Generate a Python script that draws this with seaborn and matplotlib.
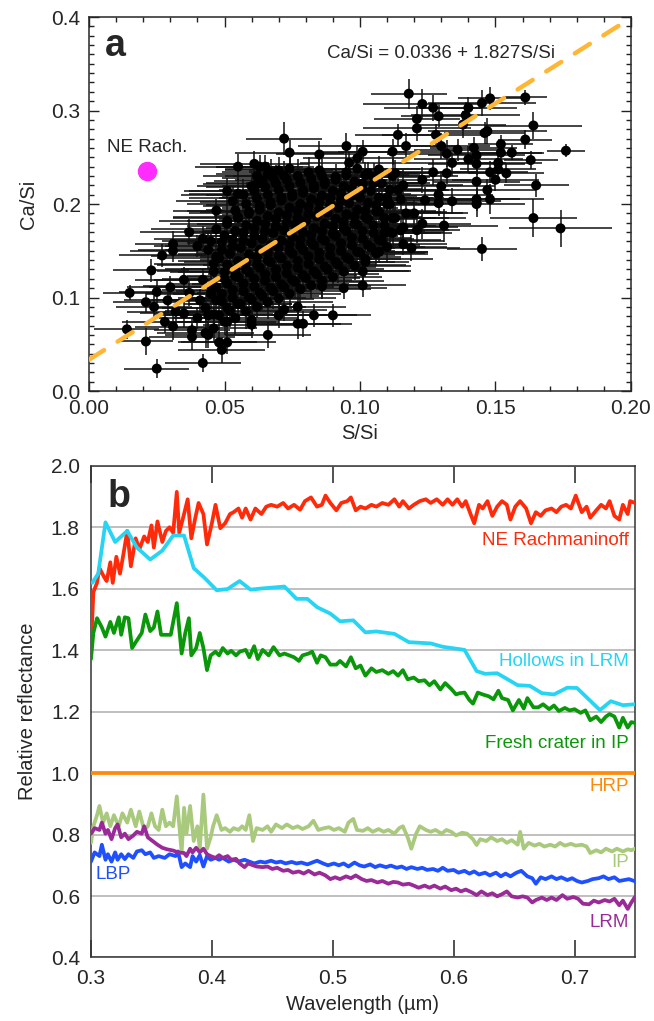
import numpy as np
import pandas as pd
import matplotlib
matplotlib.use("Agg")
import matplotlib.pyplot as plt
import seaborn as sns

# ---------------------------------------------------------------
# panel a : Ca/Si vs S/Si
# ---------------------------------------------------------------
# dense central cloud
s_core = [0.043, 0.045, 0.042, 0.046, 0.044,
          0.048, 0.049, 0.047, 0.050, 0.048, 0.049, 0.047,
          0.052, 0.053, 0.051, 0.054, 0.052, 0.053, 0.051, 0.054,
          0.056, 0.057, 0.055, 0.058, 0.056, 0.057, 0.055, 0.058,
          0.060, 0.061, 0.059, 0.062, 0.060, 0.061, 0.059, 0.062, 0.060,
          0.064, 0.065, 0.063, 0.066, 0.064, 0.065, 0.063, 0.066, 0.064,
          0.068, 0.069, 0.067, 0.070, 0.068, 0.069, 0.067, 0.070, 0.068,
          0.072, 0.073, 0.071, 0.074, 0.072, 0.073, 0.071, 0.074, 0.072,
          0.076, 0.077, 0.075, 0.078, 0.076, 0.077, 0.075, 0.078,
          0.080, 0.081, 0.079, 0.082, 0.080, 0.081, 0.079, 0.082,
          0.084, 0.085, 0.083, 0.086, 0.084, 0.085, 0.083, 0.086,
          0.088, 0.089, 0.087, 0.090, 0.088, 0.089, 0.087,
          0.092, 0.093, 0.091, 0.094, 0.092, 0.093, 0.091,
          0.096, 0.097, 0.095, 0.098, 0.096, 0.097, 0.095,
          0.100, 0.101, 0.099, 0.102, 0.100, 0.101,
          0.104, 0.105, 0.103, 0.106, 0.104, 0.105,
          0.108, 0.109, 0.107, 0.110, 0.108,
          0.112, 0.113, 0.111, 0.114, 0.112]
ca_core = [0.089, 0.104, 0.119, 0.136, 0.151,
           0.081, 0.096, 0.111, 0.127, 0.142, 0.159, 0.173,
           0.086, 0.100, 0.115, 0.130, 0.147, 0.162, 0.179, 0.193,
           0.093, 0.107, 0.122, 0.138, 0.153, 0.169, 0.185, 0.200,
           0.098, 0.112, 0.127, 0.143, 0.158, 0.174, 0.190, 0.206, 0.219,
           0.102, 0.118, 0.132, 0.148, 0.163, 0.179, 0.194, 0.210, 0.225,
           0.107, 0.122, 0.138, 0.153, 0.169, 0.184, 0.199, 0.215, 0.228,
           0.111, 0.126, 0.142, 0.157, 0.172, 0.188, 0.204, 0.219, 0.230,
           0.117, 0.132, 0.147, 0.162, 0.178, 0.193, 0.208, 0.223,
           0.121, 0.136, 0.151, 0.167, 0.182, 0.197, 0.212, 0.227,
           0.125, 0.141, 0.156, 0.171, 0.187, 0.202, 0.217, 0.230,
           0.130, 0.145, 0.161, 0.176, 0.191, 0.206, 0.221,
           0.135, 0.150, 0.166, 0.181, 0.196, 0.211, 0.226,
           0.141, 0.156, 0.171, 0.187, 0.201, 0.216, 0.231,
           0.148, 0.163, 0.178, 0.193, 0.207, 0.222,
           0.154, 0.169, 0.184, 0.199, 0.214, 0.229,
           0.161, 0.177, 0.192, 0.207, 0.222,
           0.169, 0.185, 0.200, 0.215, 0.230]
s_err_core = [0.020, 0.024, 0.018, 0.022, 0.026,
              0.022, 0.018, 0.025, 0.020, 0.023, 0.019, 0.024,
              0.024, 0.020, 0.022, 0.026, 0.019, 0.023, 0.021, 0.018,
              0.019, 0.025, 0.021, 0.023, 0.026, 0.020, 0.024, 0.022,
              0.023, 0.019, 0.026, 0.021, 0.024, 0.018, 0.022, 0.025, 0.020,
              0.021, 0.024, 0.019, 0.026, 0.022, 0.025, 0.020, 0.023, 0.018,
              0.025, 0.020, 0.023, 0.019, 0.026, 0.021, 0.024, 0.022, 0.019,
              0.018, 0.023, 0.026, 0.021, 0.020, 0.024, 0.019, 0.025, 0.022,
              0.024, 0.021, 0.019, 0.025, 0.022, 0.018, 0.026, 0.020,
              0.020, 0.025, 0.022, 0.019, 0.024, 0.021, 0.023, 0.018,
              0.023, 0.019, 0.026, 0.022, 0.020, 0.025, 0.018, 0.024,
              0.021, 0.024, 0.019, 0.023, 0.026, 0.020, 0.022,
              0.025, 0.020, 0.023, 0.018, 0.022, 0.026, 0.019,
              0.019, 0.022, 0.025, 0.021, 0.024, 0.018, 0.023,
              0.024, 0.019, 0.022, 0.026, 0.020, 0.023,
              0.020, 0.025, 0.018, 0.022, 0.024, 0.021,
              0.023, 0.019, 0.025, 0.021, 0.018,
              0.022, 0.026, 0.020, 0.019, 0.024]
ca_err_core = [0.014, 0.018, 0.012, 0.016, 0.020,
               0.016, 0.013, 0.019, 0.015, 0.017, 0.012, 0.018,
               0.018, 0.014, 0.016, 0.020, 0.013, 0.017, 0.015, 0.012,
               0.013, 0.019, 0.015, 0.017, 0.020, 0.014, 0.018, 0.016,
               0.017, 0.013, 0.020, 0.015, 0.018, 0.012, 0.016, 0.019, 0.014,
               0.015, 0.018, 0.013, 0.020, 0.016, 0.019, 0.014, 0.017, 0.012,
               0.019, 0.014, 0.017, 0.013, 0.020, 0.015, 0.018, 0.016, 0.013,
               0.012, 0.017, 0.020, 0.015, 0.014, 0.018, 0.013, 0.019, 0.016,
               0.018, 0.015, 0.013, 0.019, 0.016, 0.012, 0.020, 0.014,
               0.014, 0.019, 0.016, 0.013, 0.018, 0.015, 0.017, 0.012,
               0.017, 0.013, 0.020, 0.016, 0.014, 0.019, 0.012, 0.018,
               0.015, 0.018, 0.013, 0.017, 0.020, 0.014, 0.016,
               0.019, 0.014, 0.017, 0.012, 0.016, 0.020, 0.013,
               0.013, 0.016, 0.019, 0.015, 0.018, 0.012, 0.017,
               0.018, 0.013, 0.016, 0.020, 0.014, 0.017,
               0.014, 0.019, 0.012, 0.016, 0.018, 0.015,
               0.017, 0.013, 0.019, 0.015, 0.012,
               0.016, 0.020, 0.014, 0.013, 0.018]

# second layer of the cloud, sitting between the first
s_core2 = [0.046, 0.047, 0.045, 0.046, 0.047, 0.045,
           0.050, 0.051, 0.049, 0.050, 0.051, 0.049, 0.050, 0.051,
           0.054, 0.055, 0.053, 0.054, 0.055, 0.053, 0.054, 0.055, 0.053,
           0.058, 0.059, 0.057, 0.058, 0.059, 0.057, 0.058, 0.059, 0.057,
           0.062, 0.063, 0.061, 0.062, 0.063, 0.061, 0.062, 0.063, 0.061, 0.062,
           0.066, 0.067, 0.065, 0.066, 0.067, 0.065, 0.066, 0.067, 0.065, 0.066,
           0.070, 0.071, 0.069, 0.070, 0.071, 0.069, 0.070, 0.071, 0.069, 0.070,
           0.074, 0.075, 0.073, 0.074, 0.075, 0.073, 0.074, 0.075, 0.073, 0.074,
           0.078, 0.079, 0.077, 0.078, 0.079, 0.077, 0.078, 0.079, 0.077,
           0.082, 0.083, 0.081, 0.082, 0.083, 0.081, 0.082, 0.083, 0.081,
           0.086, 0.087, 0.085, 0.086, 0.087, 0.085, 0.086, 0.087, 0.085,
           0.090, 0.091, 0.089, 0.090, 0.091, 0.089, 0.090, 0.091,
           0.094, 0.095, 0.093, 0.094, 0.095, 0.093, 0.094, 0.095,
           0.098, 0.099, 0.097, 0.098, 0.099, 0.097, 0.098, 0.099,
           0.102, 0.103, 0.101, 0.102, 0.103, 0.101, 0.102,
           0.106, 0.107, 0.105, 0.106, 0.107, 0.105,
           0.110, 0.111, 0.109, 0.110, 0.111,
           0.116, 0.117, 0.115, 0.116]
ca_core2 = [0.082, 0.097, 0.112, 0.128, 0.144, 0.160,
            0.074, 0.089, 0.104, 0.120, 0.135, 0.151, 0.166, 0.182,
            0.078, 0.093, 0.108, 0.123, 0.139, 0.155, 0.171, 0.186, 0.203,
            0.085, 0.100, 0.115, 0.130, 0.146, 0.161, 0.177, 0.192, 0.210,
            0.090, 0.105, 0.120, 0.135, 0.151, 0.166, 0.182, 0.198, 0.214, 0.230,
            0.095, 0.110, 0.125, 0.140, 0.156, 0.171, 0.187, 0.202, 0.218, 0.232,
            0.099, 0.114, 0.130, 0.145, 0.161, 0.176, 0.191, 0.207, 0.222, 0.236,
            0.104, 0.119, 0.134, 0.150, 0.165, 0.180, 0.196, 0.211, 0.226, 0.238,
            0.109, 0.124, 0.139, 0.155, 0.170, 0.185, 0.200, 0.215, 0.230,
            0.113, 0.128, 0.144, 0.159, 0.174, 0.189, 0.205, 0.220, 0.234,
            0.118, 0.133, 0.148, 0.163, 0.179, 0.194, 0.209, 0.224, 0.236,
            0.122, 0.138, 0.153, 0.168, 0.184, 0.199, 0.214, 0.229,
            0.128, 0.143, 0.158, 0.174, 0.189, 0.204, 0.219, 0.234,
            0.134, 0.149, 0.164, 0.179, 0.194, 0.209, 0.224, 0.238,
            0.141, 0.156, 0.171, 0.186, 0.201, 0.216, 0.231,
            0.147, 0.162, 0.177, 0.192, 0.207, 0.222,
            0.154, 0.170, 0.185, 0.200, 0.215,
            0.175, 0.190, 0.205, 0.220]
s_err_core2 = [0.022, 0.019, 0.025, 0.021, 0.024, 0.018,
               0.020, 0.024, 0.018, 0.023, 0.026, 0.021, 0.019, 0.025,
               0.023, 0.020, 0.026, 0.018, 0.022, 0.025, 0.019, 0.024, 0.021,
               0.025, 0.021, 0.019, 0.024, 0.020, 0.026, 0.022, 0.018, 0.023,
               0.018, 0.023, 0.025, 0.020, 0.022, 0.019, 0.026, 0.021, 0.024, 0.020,
               0.024, 0.018, 0.021, 0.025, 0.019, 0.023, 0.020, 0.026, 0.022, 0.019,
               0.021, 0.025, 0.020, 0.018, 0.024, 0.022, 0.019, 0.023, 0.026, 0.020,
               0.019, 0.022, 0.026, 0.023, 0.020, 0.018, 0.025, 0.021, 0.019, 0.024,
               0.026, 0.020, 0.022, 0.019, 0.025, 0.021, 0.023, 0.018, 0.024,
               0.020, 0.024, 0.018, 0.022, 0.021, 0.026, 0.019, 0.025, 0.022,
               0.023, 0.019, 0.025, 0.020, 0.024, 0.018, 0.022, 0.021, 0.026,
               0.018, 0.022, 0.024, 0.026, 0.019, 0.021, 0.025, 0.020,
               0.024, 0.020, 0.018, 0.022, 0.025, 0.023, 0.019, 0.021,
               0.021, 0.026, 0.022, 0.019, 0.020, 0.024, 0.018, 0.023,
               0.025, 0.019, 0.023, 0.021, 0.018, 0.022, 0.020,
               0.019, 0.023, 0.021, 0.024, 0.020, 0.018,
               0.022, 0.020, 0.024, 0.019, 0.021,
               0.020, 0.023, 0.018, 0.022]
ca_err_core2 = [0.016, 0.013, 0.019, 0.015, 0.018, 0.012,
                0.014, 0.018, 0.012, 0.017, 0.020, 0.015, 0.013, 0.019,
                0.017, 0.014, 0.020, 0.012, 0.016, 0.019, 0.013, 0.018, 0.015,
                0.019, 0.015, 0.013, 0.018, 0.014, 0.020, 0.016, 0.012, 0.017,
                0.012, 0.017, 0.019, 0.014, 0.016, 0.013, 0.020, 0.015, 0.018, 0.014,
                0.018, 0.012, 0.015, 0.019, 0.013, 0.017, 0.014, 0.020, 0.016, 0.013,
                0.015, 0.019, 0.014, 0.012, 0.018, 0.016, 0.013, 0.017, 0.020, 0.014,
                0.013, 0.016, 0.020, 0.017, 0.014, 0.012, 0.019, 0.015, 0.013, 0.018,
                0.020, 0.014, 0.016, 0.013, 0.019, 0.015, 0.017, 0.012, 0.018,
                0.014, 0.018, 0.012, 0.016, 0.015, 0.020, 0.013, 0.019, 0.016,
                0.017, 0.013, 0.019, 0.014, 0.018, 0.012, 0.016, 0.015, 0.020,
                0.012, 0.016, 0.018, 0.020, 0.013, 0.015, 0.019, 0.014,
                0.018, 0.014, 0.012, 0.016, 0.019, 0.017, 0.013, 0.015,
                0.015, 0.020, 0.016, 0.013, 0.014, 0.018, 0.012, 0.017,
                0.019, 0.013, 0.017, 0.015, 0.012, 0.016, 0.014,
                0.013, 0.017, 0.015, 0.018, 0.014, 0.012,
                0.016, 0.014, 0.018, 0.013, 0.015,
                0.014, 0.017, 0.012, 0.016]

# high S/Si side of the cloud
s_right = [0.176, 0.174, 0.164, 0.165, 0.161, 0.164, 0.161, 0.163, 0.156, 0.154,
           0.152, 0.152, 0.151, 0.148, 0.145, 0.145, 0.148, 0.143, 0.143, 0.146,
           0.147, 0.139, 0.140, 0.138, 0.134, 0.131, 0.129, 0.130, 0.128, 0.129,
           0.121, 0.123, 0.127, 0.118, 0.121, 0.117, 0.114, 0.112, 0.119, 0.116,
           0.142, 0.140, 0.143, 0.148, 0.143, 0.147, 0.134, 0.132, 0.127, 0.130,
           0.123, 0.136, 0.132, 0.150, 0.151, 0.143, 0.124, 0.123, 0.121, 0.129]
ca_right = [0.257, 0.174, 0.185, 0.220, 0.314, 0.284, 0.269, 0.247, 0.255, 0.233,
            0.264, 0.255, 0.244, 0.313, 0.308, 0.152, 0.205, 0.200, 0.205, 0.276,
            0.278, 0.295, 0.303, 0.285, 0.203, 0.177, 0.201, 0.262, 0.274, 0.294,
            0.291, 0.307, 0.303, 0.318, 0.281, 0.262, 0.274, 0.256, 0.153, 0.157,
            0.260, 0.248, 0.243, 0.234, 0.224, 0.215, 0.244, 0.233, 0.234, 0.219,
            0.226, 0.258, 0.254, 0.226, 0.237, 0.252, 0.204, 0.179, 0.172, 0.210]
s_err_right = [0.007, 0.019, 0.016, 0.012, 0.008, 0.018, 0.010, 0.010, 0.012, 0.014,
               0.012, 0.015, 0.016, 0.012, 0.020, 0.013, 0.020, 0.018, 0.016, 0.015,
               0.022, 0.020, 0.018, 0.016, 0.018, 0.020, 0.016, 0.018, 0.020, 0.014,
               0.016, 0.022, 0.018, 0.014, 0.020, 0.018, 0.016, 0.020, 0.018, 0.016,
               0.016, 0.020, 0.018, 0.014, 0.016, 0.018, 0.020, 0.018, 0.016, 0.020,
               0.018, 0.016, 0.022, 0.016, 0.014, 0.018, 0.020, 0.018, 0.016, 0.020]
ca_err_right = [0.007, 0.020, 0.020, 0.012, 0.008, 0.014, 0.010, 0.010, 0.008, 0.010,
                0.010, 0.012, 0.012, 0.012, 0.014, 0.013, 0.016, 0.014, 0.012, 0.012,
                0.014, 0.014, 0.012, 0.014, 0.014, 0.018, 0.014, 0.014, 0.012, 0.012,
                0.014, 0.016, 0.014, 0.016, 0.014, 0.014, 0.012, 0.014, 0.014, 0.012,
                0.012, 0.014, 0.012, 0.012, 0.014, 0.012, 0.014, 0.012, 0.014, 0.016,
                0.014, 0.012, 0.014, 0.012, 0.010, 0.012, 0.014, 0.016, 0.014, 0.014]

# upper edge of the cloud
s_upper = [0.095, 0.101, 0.099, 0.096, 0.085, 0.074, 0.072, 0.067, 0.063,
           0.061, 0.065, 0.055, 0.062, 0.055, 0.051, 0.107, 0.103, 0.113]
ca_upper = [0.262, 0.256, 0.249, 0.244, 0.253, 0.255, 0.270, 0.234, 0.240,
            0.243, 0.240, 0.240, 0.221, 0.211, 0.214, 0.237, 0.233, 0.233]
s_err_upper = [0.018, 0.016, 0.020, 0.018, 0.016, 0.020, 0.014, 0.018, 0.016,
               0.020, 0.018, 0.016, 0.020, 0.018, 0.016, 0.020, 0.018, 0.016]
ca_err_upper = [0.014, 0.012, 0.014, 0.012, 0.014, 0.014, 0.018, 0.014, 0.012,
                0.014, 0.012, 0.014, 0.014, 0.016, 0.014, 0.014, 0.012, 0.014]

# low S/Si tail and lower edge
s_lower = [0.015, 0.021, 0.014, 0.021, 0.025, 0.042, 0.023, 0.027, 0.031, 0.031,
           0.037, 0.030, 0.025, 0.029, 0.024, 0.028, 0.031, 0.032, 0.035, 0.038,
           0.038, 0.043, 0.044, 0.048, 0.049, 0.051, 0.066, 0.060, 0.077, 0.079,
           0.083, 0.090, 0.070, 0.072, 0.077, 0.101, 0.101, 0.094, 0.086, 0.102,
           0.107, 0.109, 0.115, 0.112, 0.120, 0.060, 0.051, 0.044, 0.040, 0.046,
           0.041, 0.037, 0.035, 0.040, 0.042, 0.047]
ca_lower = [0.105, 0.095, 0.066, 0.053, 0.024, 0.030, 0.129, 0.145, 0.157, 0.150,
            0.170, 0.111, 0.106, 0.097, 0.090, 0.074, 0.069, 0.085, 0.083, 0.065,
            0.058, 0.062, 0.060, 0.052, 0.044, 0.052, 0.060, 0.071, 0.072, 0.072,
            0.081, 0.081, 0.081, 0.087, 0.090, 0.113, 0.128, 0.110, 0.112, 0.138,
            0.149, 0.169, 0.172, 0.185, 0.190, 0.076, 0.074, 0.081, 0.078, 0.067,
            0.097, 0.105, 0.119, 0.155, 0.163, 0.193]
s_err_lower = [0.010, 0.012, 0.012, 0.010, 0.012, 0.014, 0.014, 0.016, 0.014, 0.016,
               0.018, 0.016, 0.014, 0.016, 0.014, 0.016, 0.014, 0.018, 0.016, 0.014,
               0.016, 0.018, 0.016, 0.014, 0.016, 0.018, 0.016, 0.018, 0.016, 0.018,
               0.016, 0.014, 0.018, 0.016, 0.018, 0.016, 0.018, 0.016, 0.018, 0.016,
               0.018, 0.016, 0.018, 0.016, 0.018, 0.016, 0.018, 0.016, 0.014, 0.016,
               0.018, 0.016, 0.018, 0.016, 0.018, 0.016]
ca_err_lower = [0.008, 0.010, 0.010, 0.014, 0.010, 0.010, 0.012, 0.012, 0.014, 0.012,
                0.014, 0.012, 0.012, 0.014, 0.012, 0.012, 0.014, 0.012, 0.014, 0.012,
                0.014, 0.016, 0.014, 0.012, 0.014, 0.012, 0.014, 0.014, 0.016, 0.014,
                0.012, 0.012, 0.014, 0.012, 0.014, 0.012, 0.014, 0.012, 0.014, 0.014,
                0.012, 0.014, 0.012, 0.014, 0.014, 0.012, 0.014, 0.012, 0.012, 0.014,
                0.012, 0.014, 0.014, 0.012, 0.014, 0.012]

ne_rach_s, ne_rach_ca = 0.0213, 0.2356
fit_intercept, fit_slope = 0.0336, 1.827

# ---------------------------------------------------------------
# panel b : relative reflectance spectra
# ---------------------------------------------------------------
wl_ne = [0.300, 0.302, 0.305, 0.307, 0.311, 0.313, 0.316, 0.318, 0.321, 0.324, 0.327, 0.330,
         0.333, 0.337, 0.340, 0.344, 0.347, 0.350, 0.352, 0.355, 0.359, 0.362, 0.365, 0.368,
         0.371, 0.373, 0.377, 0.380, 0.383, 0.386, 0.389, 0.393, 0.396, 0.400, 0.403, 0.407,
         0.411, 0.415, 0.418, 0.422, 0.425, 0.428, 0.432, 0.436, 0.441, 0.445, 0.449, 0.454,
         0.459, 0.463, 0.468, 0.473, 0.477, 0.482, 0.487, 0.491, 0.494, 0.498, 0.503, 0.507,
         0.512, 0.515, 0.519, 0.523, 0.527, 0.532, 0.536, 0.541, 0.546, 0.551, 0.555, 0.558,
         0.563, 0.567, 0.572, 0.577, 0.581, 0.586, 0.591, 0.595, 0.599, 0.603, 0.607, 0.610,
         0.614, 0.617, 0.621, 0.624, 0.628, 0.632, 0.636, 0.640, 0.644, 0.647, 0.651, 0.655,
         0.660, 0.664, 0.668, 0.672, 0.676, 0.681, 0.685, 0.689, 0.693, 0.697, 0.701, 0.706,
         0.710, 0.713, 0.718, 0.722, 0.726, 0.729, 0.733, 0.737, 0.740, 0.744, 0.746, 0.750]
refl_ne = [1.407, 1.589, 1.619, 1.667, 1.637, 1.625, 1.686, 1.619, 1.704, 1.649, 1.716, 1.788,
           1.673, 1.764, 1.728, 1.770, 1.752, 1.806, 1.734, 1.819, 1.752, 1.788, 1.800, 1.782,
           1.915, 1.782, 1.843, 1.891, 1.764, 1.825, 1.879, 1.843, 1.744, 1.813, 1.873, 1.797,
           1.813, 1.843, 1.849, 1.861, 1.831, 1.861, 1.825, 1.861, 1.843, 1.867, 1.873, 1.867,
           1.879, 1.861, 1.873, 1.857, 1.885, 1.897, 1.867, 1.873, 1.903, 1.879, 1.855, 1.879,
           1.885, 1.897, 1.855, 1.867, 1.861, 1.873, 1.867, 1.879, 1.873, 1.891, 1.867, 1.885,
           1.861, 1.873, 1.885, 1.891, 1.879, 1.891, 1.873, 1.891, 1.873, 1.891, 1.867, 1.885,
           1.843, 1.813, 1.873, 1.861, 1.885, 1.837, 1.867, 1.885, 1.873, 1.825, 1.867, 1.885,
           1.861, 1.813, 1.849, 1.837, 1.855, 1.861, 1.849, 1.867, 1.873, 1.861, 1.903, 1.849,
           1.867, 1.831, 1.855, 1.873, 1.861, 1.885, 1.837, 1.825, 1.873, 1.843, 1.885, 1.879]

wl_hol = [0.301, 0.306, 0.312, 0.320, 0.330, 0.338, 0.349, 0.359, 0.368, 0.377, 0.385,
          0.394, 0.404, 0.413, 0.423, 0.432, 0.442, 0.460, 0.470, 0.479, 0.487, 0.498,
          0.506, 0.517, 0.527, 0.536, 0.551, 0.563, 0.581, 0.591, 0.609, 0.619, 0.626,
          0.636, 0.653, 0.663, 0.673, 0.683, 0.694, 0.702, 0.721, 0.730, 0.740, 0.750]
refl_hol = [1.619, 1.649, 1.816, 1.752, 1.788, 1.734, 1.695, 1.724, 1.773, 1.773, 1.667,
            1.635, 1.595, 1.599, 1.625, 1.597, 1.601, 1.607, 1.567, 1.567, 1.540, 1.519,
            1.494, 1.497, 1.458, 1.461, 1.453, 1.426, 1.422, 1.411, 1.401, 1.332, 1.323,
            1.325, 1.286, 1.284, 1.260, 1.256, 1.278, 1.277, 1.205, 1.234, 1.221, 1.224]

wl_fc = [0.300, 0.302, 0.305, 0.309, 0.312, 0.316, 0.319, 0.323, 0.325, 0.328, 0.331, 0.334,
         0.338, 0.342, 0.345, 0.349, 0.352, 0.355, 0.358, 0.362, 0.366, 0.371, 0.375, 0.378,
         0.381, 0.383, 0.387, 0.390, 0.393, 0.396, 0.399, 0.403, 0.406, 0.409, 0.413, 0.416,
         0.420, 0.423, 0.428, 0.431, 0.435, 0.438, 0.442, 0.447, 0.451, 0.456, 0.460, 0.464,
         0.468, 0.472, 0.475, 0.480, 0.483, 0.487, 0.490, 0.494, 0.498, 0.503, 0.506, 0.511,
         0.515, 0.519, 0.523, 0.527, 0.532, 0.536, 0.541, 0.546, 0.550, 0.554, 0.558, 0.562,
         0.567, 0.571, 0.576, 0.580, 0.584, 0.589, 0.593, 0.598, 0.602, 0.605, 0.609, 0.613,
         0.616, 0.620, 0.624, 0.629, 0.633, 0.637, 0.640, 0.645, 0.649, 0.654, 0.658, 0.661,
         0.666, 0.670, 0.674, 0.679, 0.683, 0.687, 0.692, 0.696, 0.700, 0.705, 0.709, 0.713,
         0.718, 0.722, 0.726, 0.729, 0.733, 0.737, 0.740, 0.744, 0.747, 0.750]
refl_fc = [1.371, 1.456, 1.504, 1.474, 1.444, 1.492, 1.456, 1.507, 1.450, 1.507, 1.504, 1.407,
           1.432, 1.456, 1.516, 1.462, 1.474, 1.526, 1.450, 1.450, 1.450, 1.553, 1.389, 1.456,
           1.504, 1.383, 1.407, 1.456, 1.407, 1.335, 1.383, 1.395, 1.383, 1.407, 1.389, 1.398,
           1.383, 1.395, 1.401, 1.377, 1.413, 1.371, 1.401, 1.383, 1.410, 1.383, 1.389, 1.383,
           1.377, 1.365, 1.383, 1.389, 1.395, 1.359, 1.383, 1.377, 1.353, 1.353, 1.365, 1.347,
           1.377, 1.341, 1.350, 1.317, 1.341, 1.329, 1.335, 1.323, 1.332, 1.317, 1.335, 1.305,
           1.311, 1.299, 1.302, 1.286, 1.299, 1.272, 1.293, 1.274, 1.256, 1.260, 1.262, 1.238,
           1.226, 1.262, 1.256, 1.250, 1.240, 1.268, 1.244, 1.238, 1.204, 1.238, 1.210, 1.244,
           1.214, 1.214, 1.224, 1.208, 1.220, 1.202, 1.212, 1.204, 1.208, 1.196, 1.204, 1.172,
           1.184, 1.166, 1.184, 1.192, 1.184, 1.148, 1.180, 1.148, 1.166, 1.163]

wl_hrp = [0.300, 0.750]
refl_hrp = [1.000, 1.000]

wl_ip = [0.300, 0.302, 0.305, 0.307, 0.310, 0.313, 0.316, 0.319, 0.323, 0.326, 0.330, 0.333,
         0.337, 0.340, 0.344, 0.347, 0.350, 0.353, 0.356, 0.359, 0.362, 0.365, 0.368, 0.371,
         0.375, 0.377, 0.379, 0.382, 0.385, 0.388, 0.390, 0.393, 0.396, 0.399, 0.401, 0.404,
         0.408, 0.411, 0.415, 0.418, 0.422, 0.425, 0.428, 0.431, 0.434, 0.437, 0.442, 0.446,
         0.449, 0.453, 0.458, 0.462, 0.467, 0.471, 0.475, 0.480, 0.484, 0.488, 0.493, 0.497,
         0.501, 0.505, 0.510, 0.513, 0.517, 0.520, 0.525, 0.529, 0.533, 0.538, 0.542, 0.546,
         0.551, 0.555, 0.558, 0.562, 0.565, 0.569, 0.572, 0.577, 0.581, 0.585, 0.590, 0.594,
         0.598, 0.602, 0.607, 0.611, 0.616, 0.619, 0.622, 0.627, 0.631, 0.636, 0.640, 0.644,
         0.648, 0.653, 0.655, 0.658, 0.662, 0.667, 0.671, 0.675, 0.680, 0.684, 0.688, 0.692,
         0.697, 0.701, 0.706, 0.710, 0.713, 0.718, 0.722, 0.726, 0.731, 0.735, 0.740, 0.744,
         0.747, 0.750]
refl_ip = [0.773, 0.827, 0.863, 0.893, 0.839, 0.869, 0.827, 0.863, 0.827, 0.869, 0.839, 0.881,
           0.827, 0.875, 0.815, 0.827, 0.869, 0.827, 0.815, 0.881, 0.827, 0.839, 0.827, 0.924,
           0.742, 0.887, 0.803, 0.893, 0.779, 0.827, 0.754, 0.930, 0.754, 0.791, 0.827, 0.863,
           0.815, 0.821, 0.809, 0.821, 0.815, 0.827, 0.815, 0.863, 0.779, 0.821, 0.815, 0.827,
           0.809, 0.833, 0.821, 0.833, 0.821, 0.827, 0.818, 0.827, 0.845, 0.815, 0.821, 0.824,
           0.815, 0.821, 0.809, 0.839, 0.851, 0.815, 0.812, 0.821, 0.809, 0.818, 0.809, 0.815,
           0.803, 0.821, 0.827, 0.791, 0.754, 0.803, 0.827, 0.815, 0.809, 0.815, 0.803, 0.815,
           0.809, 0.797, 0.806, 0.803, 0.785, 0.766, 0.785, 0.779, 0.791, 0.779, 0.785, 0.773,
           0.782, 0.767, 0.809, 0.754, 0.773, 0.764, 0.770, 0.761, 0.767, 0.761, 0.773, 0.764,
           0.770, 0.764, 0.767, 0.761, 0.740, 0.749, 0.742, 0.754, 0.745, 0.754, 0.745, 0.752,
           0.749, 0.754]

wl_lbp = [0.300, 0.303, 0.307, 0.309, 0.312, 0.314, 0.317, 0.320, 0.322, 0.325, 0.328, 0.331,
          0.335, 0.338, 0.342, 0.345, 0.349, 0.352, 0.356, 0.361, 0.365, 0.370, 0.372, 0.375,
          0.378, 0.382, 0.384, 0.387, 0.390, 0.393, 0.396, 0.399, 0.403, 0.406, 0.409, 0.414,
          0.418, 0.422, 0.427, 0.431, 0.435, 0.440, 0.444, 0.449, 0.453, 0.457, 0.461, 0.466,
          0.470, 0.474, 0.479, 0.483, 0.487, 0.492, 0.496, 0.501, 0.505, 0.509, 0.513, 0.518,
          0.522, 0.526, 0.531, 0.535, 0.539, 0.544, 0.548, 0.553, 0.557, 0.561, 0.565, 0.570,
          0.574, 0.578, 0.583, 0.587, 0.591, 0.595, 0.600, 0.604, 0.609, 0.613, 0.617, 0.621,
          0.626, 0.630, 0.635, 0.639, 0.643, 0.647, 0.652, 0.656, 0.661, 0.665, 0.668, 0.672,
          0.676, 0.681, 0.685, 0.689, 0.694, 0.698, 0.702, 0.706, 0.711, 0.715, 0.720, 0.724,
          0.728, 0.733, 0.737, 0.741, 0.745, 0.750]
refl_lbp = [0.712, 0.742, 0.730, 0.767, 0.718, 0.736, 0.712, 0.742, 0.718, 0.736, 0.720, 0.736,
            0.724, 0.745, 0.749, 0.736, 0.742, 0.724, 0.730, 0.724, 0.736, 0.730, 0.745, 0.694,
            0.706, 0.694, 0.730, 0.712, 0.733, 0.696, 0.730, 0.718, 0.724, 0.718, 0.724, 0.712,
            0.718, 0.712, 0.718, 0.712, 0.706, 0.712, 0.709, 0.715, 0.709, 0.712, 0.706, 0.711,
            0.706, 0.709, 0.703, 0.709, 0.715, 0.706, 0.700, 0.706, 0.700, 0.706, 0.696, 0.709,
            0.700, 0.696, 0.703, 0.694, 0.700, 0.694, 0.699, 0.692, 0.696, 0.688, 0.694, 0.688,
            0.692, 0.685, 0.688, 0.682, 0.692, 0.682, 0.685, 0.676, 0.682, 0.673, 0.680, 0.670,
            0.676, 0.667, 0.676, 0.664, 0.673, 0.664, 0.676, 0.682, 0.664, 0.658, 0.640, 0.661,
            0.655, 0.664, 0.655, 0.661, 0.652, 0.658, 0.649, 0.644, 0.649, 0.655, 0.658, 0.664,
            0.655, 0.661, 0.649, 0.652, 0.655, 0.648]

wl_lrm = [0.300, 0.303, 0.307, 0.309, 0.312, 0.314, 0.317, 0.320, 0.322, 0.325, 0.328, 0.331,
          0.335, 0.338, 0.342, 0.344, 0.347, 0.351, 0.355, 0.359, 0.363, 0.368, 0.372, 0.377,
          0.379, 0.382, 0.384, 0.387, 0.390, 0.393, 0.396, 0.399, 0.403, 0.406, 0.409, 0.413,
          0.416, 0.420, 0.423, 0.427, 0.430, 0.434, 0.437, 0.442, 0.446, 0.450, 0.454, 0.459,
          0.463, 0.467, 0.472, 0.476, 0.480, 0.485, 0.489, 0.494, 0.498, 0.502, 0.506, 0.511,
          0.515, 0.519, 0.524, 0.528, 0.532, 0.537, 0.541, 0.546, 0.550, 0.554, 0.558, 0.563,
          0.567, 0.571, 0.576, 0.580, 0.584, 0.589, 0.593, 0.598, 0.602, 0.606, 0.610, 0.615,
          0.619, 0.623, 0.628, 0.632, 0.636, 0.640, 0.644, 0.648, 0.653, 0.657, 0.661, 0.665,
          0.668, 0.673, 0.677, 0.681, 0.685, 0.690, 0.694, 0.699, 0.703, 0.707, 0.712, 0.716,
          0.720, 0.725, 0.729, 0.733, 0.737, 0.740, 0.744, 0.747, 0.750]
refl_lrm = [0.803, 0.821, 0.815, 0.839, 0.803, 0.815, 0.785, 0.821, 0.833, 0.791, 0.803, 0.785,
            0.797, 0.809, 0.803, 0.827, 0.791, 0.779, 0.767, 0.757, 0.752, 0.748, 0.742, 0.740,
            0.730, 0.754, 0.742, 0.757, 0.742, 0.754, 0.736, 0.730, 0.724, 0.733, 0.724, 0.730,
            0.718, 0.721, 0.706, 0.694, 0.706, 0.700, 0.696, 0.694, 0.696, 0.688, 0.692, 0.682,
            0.685, 0.676, 0.680, 0.673, 0.682, 0.670, 0.676, 0.667, 0.655, 0.661, 0.655, 0.664,
            0.658, 0.667, 0.655, 0.649, 0.652, 0.644, 0.649, 0.640, 0.646, 0.644, 0.637, 0.640,
            0.634, 0.627, 0.634, 0.627, 0.634, 0.624, 0.631, 0.619, 0.624, 0.615, 0.621, 0.612,
            0.603, 0.615, 0.603, 0.609, 0.599, 0.606, 0.615, 0.599, 0.595, 0.599, 0.595, 0.579,
            0.587, 0.595, 0.587, 0.595, 0.587, 0.603, 0.591, 0.597, 0.591, 0.575, 0.573, 0.585,
            0.579, 0.587, 0.582, 0.591, 0.570, 0.585, 0.558, 0.579, 0.597]

spectra = [
    ("NE Rachmaninoff", wl_ne, refl_ne, "#ff2a0a"),
    ("Hollows in LRM", wl_hol, refl_hol, "#26d4f4"),
    ("Fresh crater in IP", wl_fc, refl_fc, "#0a980a"),
    ("HRP", wl_hrp, refl_hrp, "#ff8a0a"),
    ("IP", wl_ip, refl_ip, "#a9c97d"),
    ("LBP", wl_lbp, refl_lbp, "#1e50ff"),
    ("LRM", wl_lrm, refl_lrm, "#9a2a98"),
]

# ---------------------------------------------------------------
# figure
# ---------------------------------------------------------------
sns.set_style("ticks")
plt.rcParams['font.family'] = ['Liberation Sans', 'DejaVu Sans']
plt.rcParams['axes.linewidth'] = 1.1

fig = plt.figure(figsize=(6.54, 10.21), dpi=100)
ax1 = fig.add_axes([0.1361, 0.6170, 0.8287, 0.3663])
ax2 = fig.add_axes([0.1391, 0.0622, 0.8318, 0.4816])

# ---- panel a
s_all = s_core + s_core2 + s_right + s_upper + s_lower
ca_all = ca_core + ca_core2 + ca_right + ca_upper + ca_lower
s_err_all = s_err_core + s_err_core2 + s_err_right + s_err_upper + s_err_lower
ca_err_all = ca_err_core + ca_err_core2 + ca_err_right + ca_err_upper + ca_err_lower
df_a = pd.DataFrame({"S/Si": s_all, "Ca/Si": ca_all})

ax1.errorbar(s_all, ca_all, xerr=s_err_all, yerr=ca_err_all, fmt='none',
             ecolor='#111111', elinewidth=1.1, capsize=0, zorder=1)
sns.scatterplot(data=df_a, x="S/Si", y="Ca/Si", ax=ax1, color='black',
                s=52, edgecolor='none', zorder=2)
ax1.plot([ne_rach_s], [ne_rach_ca], 'o', color='#ff2cff', ms=13, zorder=3)
ax1.text(ne_rach_s, 0.261, "NE Rach.", ha='center', va='center', fontsize=13.5)

fit_x = np.array([0.0, 0.2])
fit_y = fit_intercept + fit_slope * fit_x
sns.lineplot(x=fit_x, y=fit_y, ax=ax1, color='#ffb637', lw=3.2, zorder=4,
             dashes=False)
ax1.lines[-1].set_dashes([4, 3.6])
ax1.lines[-1].set_dash_capstyle('round')
ax1.text(0.130, 0.3615, "Ca/Si = 0.0336 + 1.827S/Si", ha='center', va='center',
         fontsize=13.5)
ax1.text(0.03, 0.896, "a", transform=ax1.transAxes, fontsize=27,
         fontweight='bold', ha='left', va='baseline')

ax1.set_xlim(0, 0.2)
ax1.set_ylim(0, 0.4)
ax1.set_xticks([0.0, 0.05, 0.10, 0.15, 0.20])
ax1.set_xticklabels(["0.00", "0.05", "0.10", "0.15", "0.20"])
ax1.set_yticks([0.0, 0.1, 0.2, 0.3, 0.4])
ax1.set_yticklabels(["0.0", "0.1", "0.2", "0.3", "0.4"])
ax1.set_xticks(np.arange(0, 0.2001, 0.01), minor=True)
ax1.set_yticks(np.arange(0, 0.4001, 0.01), minor=True)
ax1.tick_params(which='both', direction='in', top=True, right=True,
                labelsize=15, width=1.0, color='#222222')
ax1.tick_params(which='major', length=7, pad=6)
ax1.tick_params(which='minor', length=3.6)
ax1.set_xlabel("S/Si", fontsize=14.5, labelpad=4)
ax1.set_ylabel("Ca/Si", fontsize=14.5, labelpad=10)

# ---- panel b
ax2.set_axisbelow(True)
ax2.yaxis.grid(True, color='#b4b4b4', lw=1.2)
for name, wl, refl, col in spectra:
    d = pd.DataFrame({"wl": wl, "refl": refl})
    sns.lineplot(data=d, x="wl", y="refl", ax=ax2, color=col, lw=2.7,
                 sort=False, estimator=None, zorder=3)

label_pos = [
    ("NE Rachmaninoff", 0.745, 1.758, "right", "#ff2a0a"),
    ("Hollows in LRM", 0.745, 1.362, "right", "#26d4f4"),
    ("Fresh crater in IP", 0.745, 1.097, "right", "#0a980a"),
    ("HRP", 0.745, 0.958, "right", "#ff8a0a"),
    ("IP", 0.745, 0.708, "right", "#a9c97d"),
    ("LBP", 0.304, 0.670, "left", "#1e50ff"),
    ("LRM", 0.745, 0.513, "right", "#9a2a98"),
]
for txt, x, y, ha, col in label_pos:
    ax2.text(x, y, txt, ha=ha, va='center', color=col, fontsize=13.5)
ax2.text(0.03, 0.917, "b", transform=ax2.transAxes, fontsize=27,
         fontweight='bold', ha='left', va='baseline')

ax2.set_xlim(0.3, 0.75)
ax2.set_ylim(0.4, 2.0)
ax2.set_xticks([0.3, 0.4, 0.5, 0.6, 0.7])
ax2.set_xticklabels(["0.3", "0.4", "0.5", "0.6", "0.7"])
ax2.set_yticks(np.arange(0.4, 2.001, 0.2))
ax2.set_yticklabels([f"{v:.1f}" for v in np.arange(0.4, 2.001, 0.2)])
ax2.tick_params(axis='x', direction='in', top=True, length=12, width=1.2,
                labelsize=15, pad=8, color='#333333')
ax2.tick_params(axis='y', length=0, labelsize=15, pad=8)
for sp in ax2.spines.values():
    sp.set_color('#333333')
ax2.set_xlabel("Wavelength (µm)", fontsize=14.5, labelpad=5)
ax2.set_ylabel("Relative reflectance", fontsize=14.5, labelpad=10)

fig.savefig("out.png", dpi=100)
